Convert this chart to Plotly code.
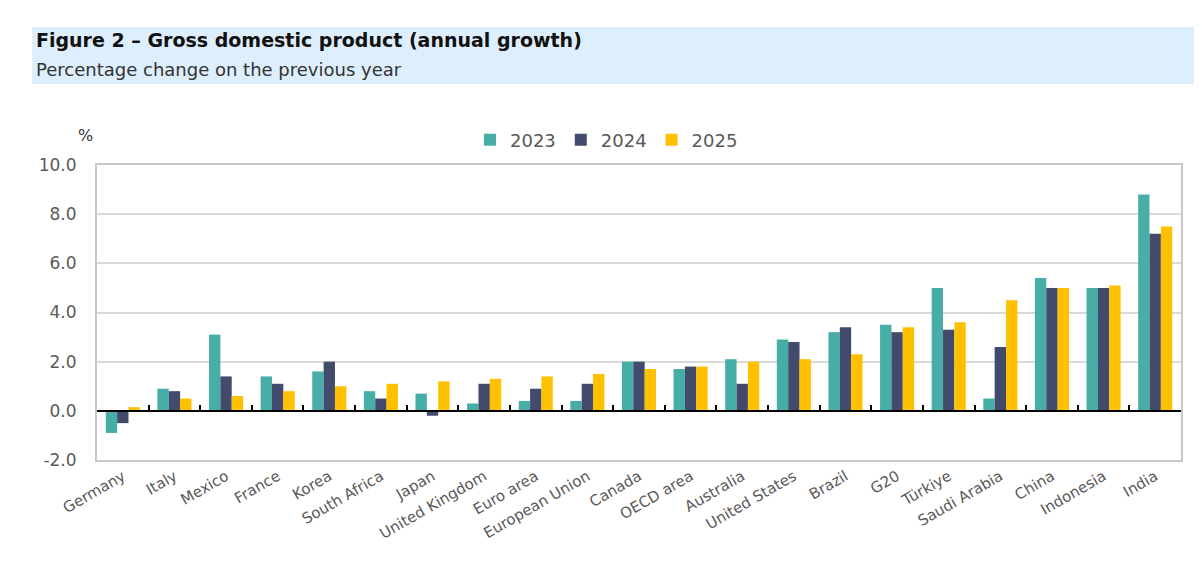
import plotly.graph_objects as go

categories = ["Germany", "Italy", "Mexico", "France", "Korea", "South Africa", "Japan",
              "United Kingdom", "Euro area", "European Union", "Canada", "OECD area",
              "Australia", "United States", "Brazil", "G20", "Türkiye", "Saudi Arabia",
              "China", "Indonesia", "India"]
g2023 = [-0.9, 0.9, 3.1, 1.4, 1.6, 0.8, 0.7, 0.3, 0.4, 0.4, 2.0, 1.7, 2.1, 2.9, 3.2, 3.5, 5.0, 0.5, 5.4, 5.0, 8.8]
g2024 = [-0.5, 0.8, 1.4, 1.1, 2.0, 0.5, -0.2, 1.1, 0.9, 1.1, 2.0, 1.8, 1.1, 2.8, 3.4, 3.2, 3.3, 2.6, 5.0, 5.0, 7.2]
g2025 = [0.15, 0.5, 0.6, 0.8, 1.0, 1.1, 1.2, 1.3, 1.4, 1.5, 1.7, 1.8, 2.0, 2.1, 2.3, 3.4, 3.6, 4.5, 5.0, 5.1, 7.5]
series_names = ["2023", "2024", "2025"]
colors = ["#47ADA7", "#434B6C", "#FFC000"]
y_tickvals = [-2, 0, 2, 4, 6, 8, 10]
y_ticktext = ["-2.0", "0.0", "2.0", "4.0", "6.0", "8.0", "10.0"]

FONT = "DejaVu Sans"
GREY = "#595959"

W, H = 1186, 545
L, T, R, B = 89, 157, 11, 93
PW = W - L - R
PH = H - T - B
NCAT = len(categories)


def px(x):
    return (x - L) / PW


def py(y):
    return (T + PH - y) / PH


fig = go.Figure()
for name, vals, col in zip(series_names, [g2023, g2024, g2025], colors):
    fig.add_trace(go.Bar(x=categories, y=vals, name=name, marker_color=col,
                         marker_line_width=0))

# invisible helper trace for the zero-line axis with boundary ticks
fig.add_trace(go.Scatter(x=categories, y=g2025, xaxis="x2", mode="markers",
                         marker=dict(opacity=0, size=1), showlegend=False,
                         hoverinfo="skip"))

xrange = [-0.5, NCAT - 0.5]

fig.update_layout(
    width=W, height=H, autosize=False,
    margin=dict(l=L, r=R, t=T, b=B),
    paper_bgcolor="white", plot_bgcolor="white",
    barmode="group", bargap=0.34, bargroupgap=0,
    font=dict(family=FONT, color=GREY, size=16),
    showlegend=True,
    legend=dict(orientation="h", x=0.47, xanchor="center", y=1.085, yanchor="middle",
                font=dict(size=18, color=GREY), traceorder="normal",
                itemclick=False),
    xaxis=dict(type="category", categoryorder="array", categoryarray=categories,
               range=xrange, autorange=False, automargin=False,
               showline=True, mirror=True, linecolor="#C8C8C8", linewidth=2,
               ticks="", tickangle=-30, tickfont=dict(size=15, color=GREY),
               showgrid=False, zeroline=False),
    xaxis2=dict(type="category", categoryorder="array", categoryarray=categories,
                range=xrange, autorange=False,
                overlaying="x", anchor="free", position=2 / 12,
                showline=True, linecolor="black", linewidth=2,
                ticks="inside", tickson="boundaries", ticklen=5, tickwidth=2,
                tickcolor="black", showticklabels=False, showgrid=False),
    yaxis=dict(range=[-2, 10], tickvals=y_tickvals, ticktext=y_ticktext,
               showgrid=True, gridcolor="#D9D9D9", gridwidth=1.5,
               showline=True, mirror=True, linecolor="#C8C8C8", linewidth=2,
               zeroline=False, ticks="", ticklabelstandoff=15,
               tickfont=dict(size=17, color=GREY)),
)

# title band
fig.add_shape(type="rect", xref="paper", yref="paper",
              x0=px(24), x1=px(W + 20), y0=py(76), y1=py(19),
              fillcolor="#DDEEFC", line_width=0, layer="below")
fig.add_annotation(xref="paper", yref="paper", x=px(26), y=py(32),
                   xanchor="left", yanchor="middle", showarrow=False,
                   text="<b>Figure 2 – Gross domestic product (annual growth)</b>",
                   font=dict(family=FONT, size=19, color="#111111"))
fig.add_annotation(xref="paper", yref="paper", x=px(26), y=py(61),
                   xanchor="left", yanchor="middle", showarrow=False,
                   text="Percentage change on the previous year",
                   font=dict(family=FONT, size=18, color="#333333"))
fig.add_annotation(xref="paper", yref="paper", x=px(77), y=py(127),
                   xanchor="center", yanchor="middle", showarrow=False,
                   text="%", font=dict(family=FONT, size=16, color="#333333"))

fig.write_html("out.html")
